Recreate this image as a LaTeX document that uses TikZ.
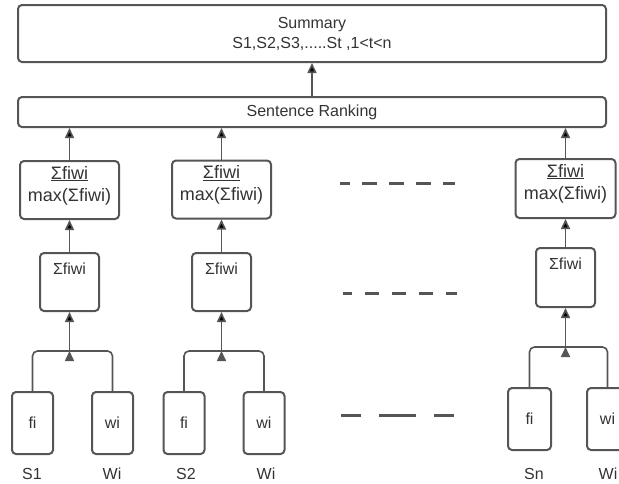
\documentclass[tikz,border=0pt]{standalone}
\usepackage{fontspec}
\setmainfont{Liberation Sans}[Ligatures=NoCommon]
\usetikzlibrary{arrows.meta}
\definecolor{linegray}{HTML}{555555}
\definecolor{textgray}{HTML}{333333}

\begin{document}
\begin{tikzpicture}[x=1pt,y=-1pt,
        box/.style={draw=linegray,line width=2pt,rounded corners=4pt,inner sep=0pt,text=textgray,font=\fontsize{16}{19}\selectfont,align=center},
        lbl/.style={text=textgray,font=\fontsize{16}{19}\selectfont,inner sep=0pt,align=center},
        big/.style={lbl,font=\fontsize{18}{22}\selectfont},
        arr/.style={draw=linegray,line width=1.6pt,-{Triangle[length=10pt,width=9pt]}},
        wire/.style={draw=linegray,line width=1.6pt,rounded corners=5pt},
        gap/.style={draw=linegray,line width=3pt}]
        \useasboundingbox (0,0) rectangle (619,483);

        \node[box,minimum width=588pt,minimum height=57pt] (summary) at (312,33.5) {Summary\\[1pt]S1,S2,S3,.....St ,1<t<n};
        \node[box,minimum width=588pt,minimum height=30pt] (ranking) at (312,112) {Sentence Ranking};

        \node[box,minimum width=99pt,minimum height=58pt,label={[big,anchor=north,yshift=-6pt]north:\underline{Σfiwi}\\max(Σfiwi)}] (max1) at (69.5,190) {};
        \node[box,minimum width=99pt,minimum height=58pt,label={[big,anchor=north,yshift=-6pt]north:\underline{Σfiwi}\\max(Σfiwi)}] (max2) at (221.5,189.5) {};
        \node[box,minimum width=100pt,minimum height=59pt,label={[big,anchor=north,yshift=-6pt]north:\underline{Σfiwi}\\max(Σfiwi)}] (max3) at (565.5,188.5) {};

        \node[box,minimum width=59pt,minimum height=58pt,label={[lbl,anchor=north,yshift=-11pt]north:Σfiwi}] (sig1) at (69.5,282) {};
        \node[box,minimum width=59pt,minimum height=58pt,label={[lbl,anchor=north,yshift=-11pt]north:Σfiwi}] (sig2) at (221.5,282) {};
        \node[box,minimum width=59pt,minimum height=59pt,label={[lbl,anchor=north,yshift=-11pt]north:Σfiwi}] (sig3) at (565.5,277.5) {};

        \coordinate (j1) at (69.5,351);
        \coordinate (j2) at (221.5,351);
        \coordinate (j3) at (565.5,347);

        \node[box,minimum width=41pt,minimum height=62pt] (f1) at (32.5,423) {fi};
        \node[box,minimum width=41pt,minimum height=62pt] (w1) at (112.5,423) {wi};
        \node[box,minimum width=41pt,minimum height=62pt] (f2) at (184,423) {fi};
        \node[box,minimum width=41pt,minimum height=62pt] (w2) at (264,423) {wi};
        \node[box,minimum width=43pt,minimum height=62pt] (f3) at (529.5,419) {fi};
        \node[box,minimum width=41pt,minimum height=62pt] (w3) at (607.5,419) {wi};

        \node[lbl] (s1) at (32,474) {S1};
        \node[lbl] (wt1) at (112,474) {Wi};
        \node[lbl] (s2) at (186,474) {S2};
        \node[lbl] (wt2) at (266,474) {Wi};
        \node[lbl] (sn) at (534,474) {Sn};
        \node[lbl] (wt3) at (608,474) {Wi};

        \draw[wire] (f1.north) |- (j1) -| (w1.north);
        \draw[wire] (f2.north) |- (j2) -| (w2.north);
        \draw[wire] (f3.north) |- (j3) -| (w3.north);

        \path [arr](j1) edge (sig1);
        \path [arr](j2) edge (sig2);
        \path [arr](j3) edge (sig3);
        \path [arr](sig1) edge (max1);
        \path [arr](sig2) edge (max2);
        \path [arr](sig3) edge (max3);
        \path [arr](max1) edge (max1 |- ranking.south);
        \path [arr](max2) edge (max2 |- ranking.south);
        \path [arr](max3) edge (max3 |- ranking.south);
        \path [arr](ranking) edge (summary);

        % dashes between the columns
        \draw[gap,dash pattern=on 15pt off 12pt,dash phase=5pt] (340,183) -- (455,183);
        \draw[gap,dash pattern=on 14pt off 13pt,dash phase=5pt] (343,293) -- (457,293);
        \draw[gap,dash pattern=on 20pt off 18pt on 37pt off 18pt] (341,415) -- (454,415);
    \end{tikzpicture}
\end{document}
